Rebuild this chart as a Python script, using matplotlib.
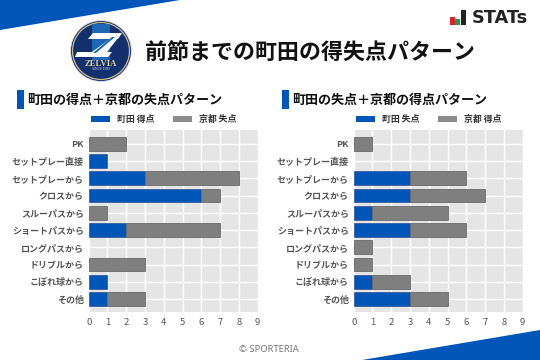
import matplotlib
matplotlib.use("Agg")
import matplotlib.pyplot as plt
from matplotlib.patches import Polygon, Circle, Rectangle

plt.rcParams['font.family'] = ['Noto Sans CJK JP', 'DejaVu Sans']

# data
categories = ['PK', 'セットプレー直接', 'セットプレーから', 'クロスから', 'スルーパスから',
              'ショートパスから', 'ロングパスから', 'ドリブルから', 'こぼれ球から', 'その他']
left_machida = [0, 1, 3, 6, 0, 2, 0, 0, 1, 1]
left_kyoto = [2, 0, 5, 1, 1, 5, 0, 3, 0, 2]
right_machida = [0, 0, 3, 3, 1, 3, 0, 0, 1, 3]
right_kyoto = [1, 0, 3, 4, 4, 3, 1, 1, 2, 2]
xticks = list(range(10))

BLUE = '#0055b8'
GREY = '#7f7f7f'
W, H = 540, 360

fig = plt.figure(figsize=(W / 100, H / 100), dpi=100, facecolor='white')

# background layer in pixel coords
bg = fig.add_axes([0, 0, 1, 1])
bg.set_xlim(0, W)
bg.set_ylim(H, 0)
bg.axis('off')

# corner wedges
bg.add_patch(Polygon([(0, 0), (180, 0), (0, 30)], color=BLUE, lw=0))
bg.add_patch(Polygon([(362, 360), (540, 330), (540, 360)], color=BLUE, lw=0))

# club badge
bg.add_patch(Circle((101, 51), 31, fc='#d5d9e2', lw=0))
bg.add_patch(Circle((101, 51), 30, fc='#12306e', lw=0))
bg.add_patch(Circle((101, 51), 28.5, fc='none', ec='#cdbb85', lw=0.9))
bg.add_patch(Rectangle((92, 24), 18, 36, fc='#1f66b5', lw=0))
bg.add_patch(Polygon([(93, 33), (122, 33), (118, 39), (88, 39)], fc='white', lw=0))
bg.add_patch(Polygon([(122, 33), (103, 57), (85, 57), (110, 39)], fc='white', lw=0))
bg.add_patch(Polygon([(77, 52), (112, 52), (108, 57), (75, 57)], fc='white', lw=0))
bg.add_patch(Polygon([(112, 37), (115, 37), (96, 53), (93, 53)], fc='#1f66b5', lw=0))
bg.text(101, 63.5, 'ZELVIA', color='#e0cf96', fontsize=6.2, fontweight='bold',
        family=['Liberation Serif'], ha='center', va='center')
bg.text(101, 69.5, 'SINCE 1989', color='#cfd6e6', fontsize=2.5, ha='center', va='center')

# title
bg.text(145, 53, '前節までの町田の得失点パターン', fontsize=15.8, fontweight='bold',
        color='#111111', ha='left', va='center')

# STATs logo
bg.add_patch(Rectangle((450, 17), 5, 7.5, fc='#e0202a', lw=0))
bg.add_patch(Rectangle((455, 19), 5, 5.5, fc='#1f9d4d', lw=0))
bg.add_patch(Rectangle((461, 10), 4.5, 14.5, fc='#222222', lw=0))
bg.text(472, 18, 'STATs', fontsize=12.8, fontweight='bold', family=['DejaVu Sans'],
        color='#222222', ha='left', va='center')

bg.text(269, 350, '© SPORTERIA', fontsize=6.8, family=['Noto Sans'], color='#777777',
        ha='center', va='center')

# panel headings and legends
panels = [
    (17, 88.7, '町田の得点＋京都の失点パターン', '町田 得点', '京都 失点', left_machida, left_kyoto),
    (282, 353.7, '町田の失点＋京都の得点パターン', '町田 失点', '京都 得点', right_machida, right_kyoto),
]

for bar_x, ax_x, heading, name_a, name_b, vals_a, vals_b in panels:
    bg.add_patch(Rectangle((bar_x, 90), 7, 19, fc=BLUE, lw=0))
    bg.text(bar_x + 10.5, 99.5, heading, fontsize=9.4, fontweight='bold', color='#111111',
            ha='left', va='center')

    # legend
    lx = ax_x + 2.3
    bg.add_patch(Rectangle((lx, 116), 19, 6, fc=BLUE, lw=0))
    bg.text(lx + 26, 119.5, name_a, fontsize=6.4, fontweight='bold', color='#333333',
            ha='left', va='center')
    bg.add_patch(Rectangle((lx + 82.3, 116), 19, 6, fc='#8c8c8c', lw=0))
    bg.text(lx + 108, 119.5, name_b, fontsize=6.4, fontweight='bold', color='#333333',
            ha='left', va='center')

    ax = fig.add_axes([ax_x / W, 1 - 312 / H, 169 / W, 182 / H], facecolor='#e5e5e5')
    pos = list(range(len(categories)))
    # no outline on empty bars
    edge_a = ['#3a5f96' if v > 0 else 'none' for v in vals_a]
    edge_b = ['#6a6a6a' if v > 0 else 'none' for v in vals_b]
    ax.barh(pos, vals_a, height=0.8, color=BLUE, edgecolor=edge_a, linewidth=0.6, zorder=3)
    ax.barh(pos, vals_b, left=vals_a, height=0.8, color=GREY, edgecolor=edge_b,
            linewidth=0.6, zorder=3)
    ax.set_xlim(0, 9)
    ax.set_ylim(9.75, -0.8)
    ax.set_xticks(xticks)
    ax.set_yticks(pos)
    ax.set_yticklabels(categories, fontsize=6.5, fontweight='bold', color='#555555')
    ax.tick_params(axis='x', labelsize=6.8, labelcolor='#555555', length=0, pad=4)
    ax.tick_params(axis='y', length=0, pad=3.5)
    ax.grid(color='white', linewidth=1, zorder=1)
    ax.set_axisbelow(True)
    for s in ax.spines.values():
        s.set_visible(False)

fig.savefig('out.png', dpi=100)
